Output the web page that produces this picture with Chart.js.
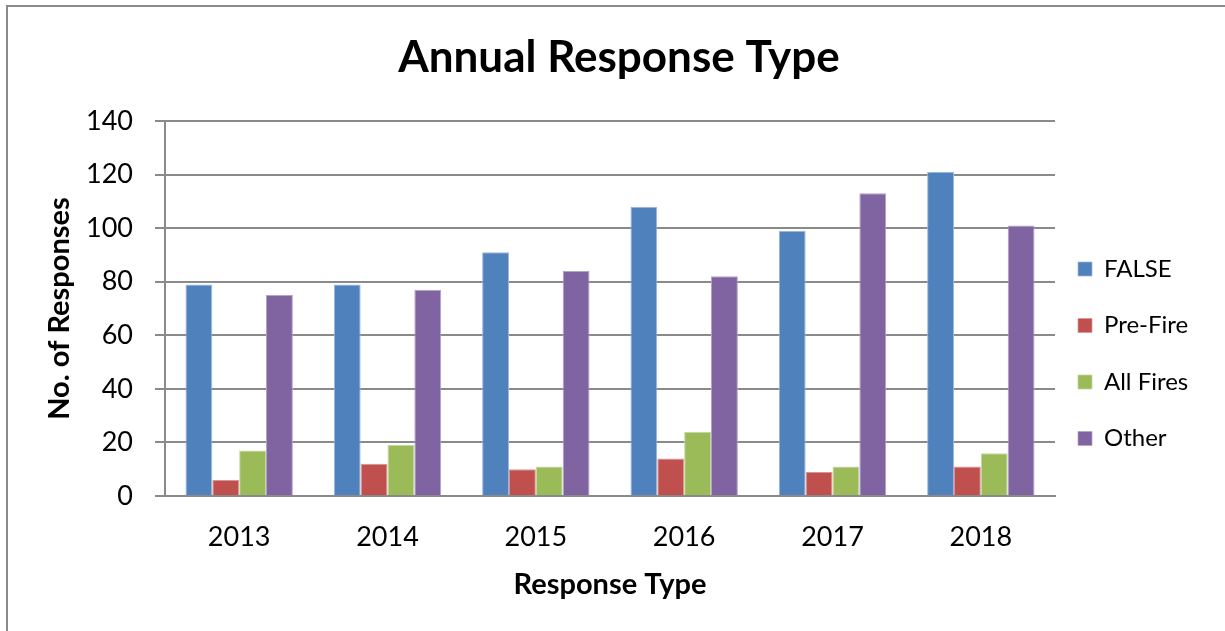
<!DOCTYPE html>
<html>
<head>
<meta charset="utf-8">
<script src="https://cdn.jsdelivr.net/npm/chart.js@4/dist/chart.umd.min.js"></script>
<style>
  html, body { margin: 0; padding: 0; background: #fff; }
  #wrap { position: relative; width: 1225px; height: 631px; overflow: hidden; }
  #frame { position: absolute; left: 6px; top: 5px; width: 1300px; height: 700px;
           border-top: 2px solid #8a8a8a; border-left: 2px solid #8a8a8a; }
  canvas { position: absolute; left: 0; top: 0; }
</style>
</head>
<body>
<div id="wrap">
  <div id="frame"></div>
  <canvas id="c" width="1225" height="631"></canvas>
</div>
<script>
// 年ごとの出動件数
const years = ["2013", "2014", "2015", "2016", "2017", "2018"];
const falseAlarm = [79, 79, 91, 108, 99, 121];
const preFire = [6, 12, 10, 14, 9, 11];
const allFires = [17, 19, 11, 24, 11, 16];
const other = [75, 77, 84, 82, 113, 101];
const yTicks = [0, 20, 40, 60, 80, 100, 120, 140];

const FONT = "Lato, 'Open Sans', sans-serif";
const gridGray = "#8a8a8a";

// プロット領域の左端・右端（px）
const plotLeft = 165;
const plotRight = 1055;
let padLeft = 28;

const series = [
  { label: "FALSE", data: falseAlarm, color: "#4F81BD", edge: "#9bb5dc" },
  { label: "Pre-Fire", data: preFire, color: "#C0504D", edge: "#d99593" },
  { label: "All Fires", data: allFires, color: "#9BBB59", edge: "#c3d8a0" },
  { label: "Other", data: other, color: "#8064A2", edge: "#b3a2c9" }
];

const datasets = series.map(s => ({
  label: s.label,
  data: s.data,
  backgroundColor: s.color,
  borderColor: s.edge,
  borderWidth: { top: 1, left: 1, right: 1, bottom: 0 },
  categoryPercentage: 0.724,
  barPercentage: 1.0
}));

// 凡例の位置をExcel風に少しずらす
const legendShift = {
  id: "legendShift",
  afterLayout(chart) {
    const lg = chart.legend;
    const h = lg.bottom - lg.top;
    lg.left -= 9.5;
    lg.right -= 9.5;
    lg.top = chart.chartArea.top + 103.5;
    lg.bottom = lg.top + h;
  }
};

const chart = new Chart(document.getElementById("c").getContext("2d"), {
  type: "bar",
  data: { labels: years, datasets: datasets },
  plugins: [legendShift],
  options: {
    responsive: false,
    animation: false,
    layout: { padding: { left: padLeft, right: 15, top: 0, bottom: 0 } },
    plugins: {
      title: {
        display: true,
        text: "Annual Response Type",
        color: "#000",
        font: { family: FONT, size: 44, weight: "bold" },
        padding: { top: 31.6, bottom: 36.6 }
      },
      legend: {
        position: "right",
        align: "start",
        fullSize: false,
        labels: {
          color: "#000",
          font: { family: FONT, size: 24 },
          boxWidth: 14,
          boxHeight: 14,
          padding: 32.5
        }
      },
      tooltip: { enabled: false }
    },
    scales: {
      x: {
        afterFit: s => { s.height = 135; },
        grid: { display: false, drawTicks: false },
        border: { display: true, color: gridGray, width: 2 },
        ticks: { color: "#000", font: { family: FONT, size: 27 }, padding: 25 },
        title: {
          display: true,
          text: "Response Type",
          color: "#000",
          font: { family: FONT, size: 29, weight: "bold" },
          padding: { top: 0, bottom: 28.6 }
        }
      },
      y: {
        min: 0,
        max: 140,
        afterFit: s => { s.width = plotLeft - padLeft; },
        afterBuildTicks: s => { s.ticks = yTicks.map(v => ({ value: v })); },
        grid: { color: gridGray, lineWidth: 2, drawTicks: true, tickLength: 10 },
        border: { display: true, color: gridGray, width: 2 },
        ticks: { color: "#000", font: { family: FONT, size: 27 }, padding: 22 },
        title: {
          display: true,
          text: "No. of Responses",
          color: "#000",
          font: { family: FONT, size: 29, weight: "bold" },
          padding: { top: 14.6, bottom: 0 }
        }
      }
    }
  }
});

// 凡例の幅に合わせて右余白を決め、タイトルが中央に来るよう左余白も調整
const padRight = Math.max(0, 1225 - plotRight - chart.legend.width);
padLeft = padRight + 13;
chart.options.layout.padding = { left: padLeft, right: padRight, top: 0, bottom: 0 };
chart.options.scales.y.title.padding = { top: 60 - padLeft - 17.4, bottom: 0 };
chart.update();
</script>
</body>
</html>
